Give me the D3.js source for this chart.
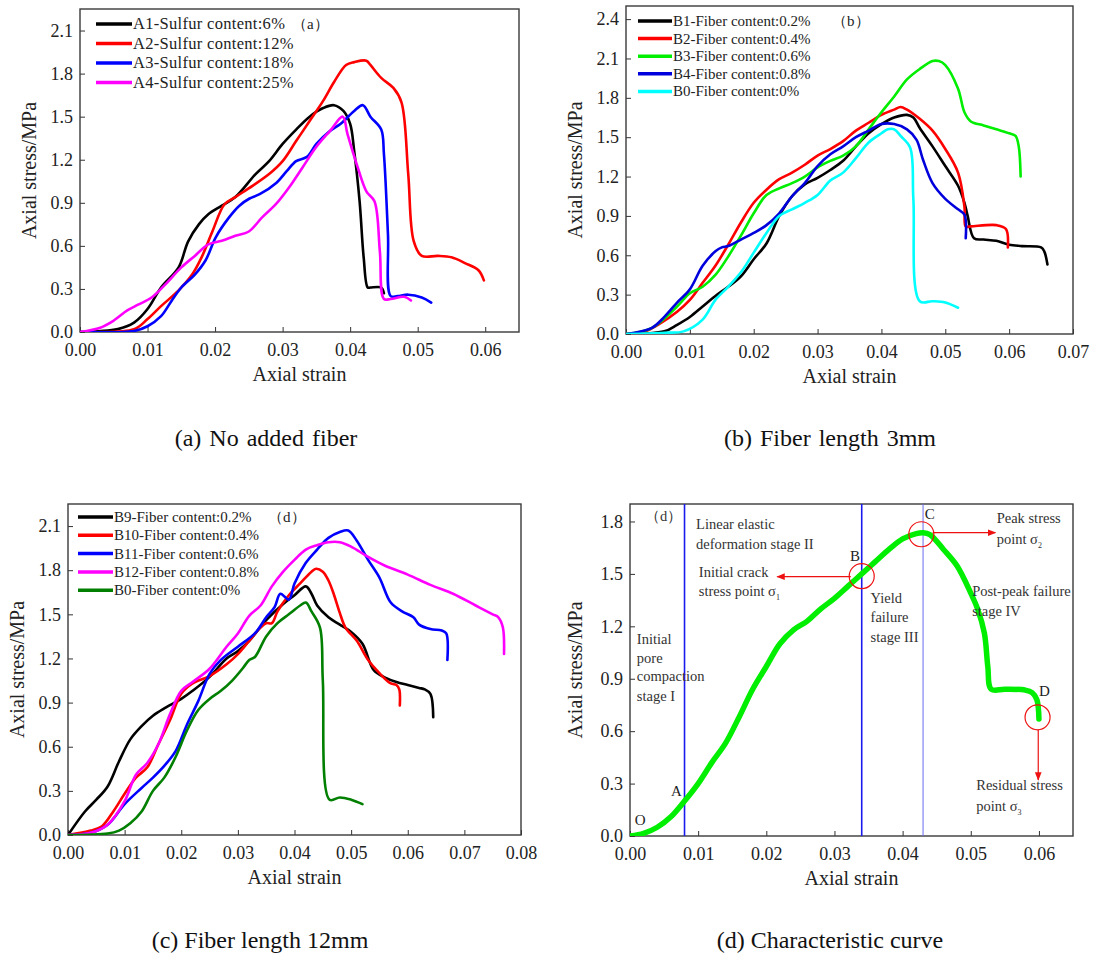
<!DOCTYPE html>
<html>
<head>
<meta charset="utf-8">
<script src="https://cdn.jsdelivr.net/npm/d3@7"></script>
<style>
  body { margin: 0; background: #fff; }
  text { font-family: "Liberation Serif", "Times New Roman", serif; }
</style>
</head>
<body>
<svg id="fig" width="1109" height="957"></svg>
<script>
// Stress-strain curves, [axial strain, axial stress MPa]

// (a) no added fiber
const A1 = [[0,0],[0.0056,0.02],[0.008,0.065],[0.01,0.16],[0.012,0.31],[0.0146,0.45],[0.016,0.63],[0.0176,0.75],[0.019,0.82],[0.021,0.88],[0.023,0.94],[0.026,1.1],[0.028,1.19],[0.03,1.31],[0.032,1.41],[0.034,1.5],[0.036,1.56],[0.0376,1.58],[0.039,1.54],[0.04,1.45],[0.0406,1.26],[0.0414,0.91],[0.042,0.52],[0.0426,0.31],[0.043,0.31],[0.0446,0.31],[0.045,0.27]];
const A2 = [[0,0],[0.008,0.02],[0.01,0.09],[0.012,0.18],[0.0146,0.29],[0.0166,0.4],[0.018,0.52],[0.0196,0.7],[0.0214,0.89],[0.023,0.94],[0.0256,1.02],[0.028,1.1],[0.03,1.19],[0.032,1.33],[0.034,1.47],[0.036,1.61],[0.0376,1.74],[0.0394,1.86],[0.0406,1.88],[0.0424,1.89],[0.043,1.86],[0.0446,1.77],[0.0464,1.7],[0.0476,1.6],[0.0486,1.1],[0.0494,0.635],[0.0506,0.53],[0.053,0.53],[0.055,0.52],[0.057,0.48],[0.059,0.43],[0.0598,0.36]];
const A3 = [[0,0],[0.008,0.007],[0.01,0.04],[0.012,0.11],[0.0136,0.22],[0.015,0.31],[0.017,0.4],[0.0186,0.5],[0.0201,0.66],[0.0221,0.8],[0.0236,0.88],[0.0251,0.93],[0.0266,0.96],[0.0291,1.04],[0.0306,1.12],[0.032,1.19],[0.0336,1.22],[0.035,1.31],[0.037,1.4],[0.0386,1.45],[0.0406,1.54],[0.0419,1.58],[0.043,1.5],[0.0446,1.41],[0.045,1.24],[0.0456,0.68],[0.046,0.25],[0.047,0.25],[0.0486,0.26],[0.0506,0.24],[0.052,0.205]];
const A4 = [[0,0],[0.003,0.03],[0.005,0.08],[0.007,0.15],[0.0086,0.19],[0.0106,0.24],[0.0126,0.33],[0.015,0.45],[0.017,0.53],[0.019,0.61],[0.021,0.635],[0.023,0.67],[0.025,0.7],[0.027,0.8],[0.029,0.89],[0.031,1.01],[0.033,1.15],[0.035,1.29],[0.037,1.4],[0.0389,1.5],[0.0396,1.38],[0.0411,1.15],[0.0424,0.98],[0.0436,0.91],[0.0444,0.56],[0.045,0.23],[0.046,0.23],[0.048,0.245],[0.049,0.22]];

// (b) fiber length 3mm
const B1 = [[0,0],[0.006,0.02],[0.008,0.07],[0.01,0.13],[0.012,0.21],[0.014,0.29],[0.016,0.36],[0.018,0.44],[0.02,0.57],[0.022,0.69],[0.024,0.9],[0.026,1.05],[0.028,1.14],[0.03,1.19],[0.032,1.25],[0.034,1.32],[0.036,1.43],[0.038,1.53],[0.04,1.6],[0.042,1.65],[0.044,1.67],[0.045,1.65],[0.046,1.57],[0.048,1.43],[0.05,1.28],[0.052,1.13],[0.053,1.0],[0.0535,0.9],[0.0545,0.73],[0.056,0.72],[0.058,0.71],[0.06,0.68],[0.062,0.67],[0.065,0.66],[0.0655,0.63],[0.066,0.53]];
const B2 = [[0,0],[0.003,0.02],[0.005,0.07],[0.008,0.17],[0.01,0.26],[0.012,0.39],[0.014,0.52],[0.016,0.68],[0.018,0.85],[0.02,1.0],[0.022,1.1],[0.024,1.18],[0.026,1.23],[0.028,1.29],[0.03,1.36],[0.032,1.41],[0.034,1.47],[0.036,1.55],[0.038,1.61],[0.04,1.67],[0.042,1.71],[0.043,1.73],[0.044,1.71],[0.046,1.64],[0.048,1.55],[0.05,1.41],[0.052,1.23],[0.053,0.97],[0.0532,0.82],[0.054,0.82],[0.058,0.83],[0.0595,0.8],[0.0598,0.66]];
const B3 = [[0,0],[0.004,0.045],[0.008,0.21],[0.01,0.31],[0.012,0.36],[0.014,0.45],[0.016,0.59],[0.018,0.75],[0.02,0.92],[0.022,1.06],[0.024,1.11],[0.026,1.15],[0.028,1.2],[0.03,1.27],[0.032,1.32],[0.034,1.36],[0.036,1.43],[0.038,1.56],[0.04,1.69],[0.042,1.81],[0.044,1.94],[0.046,2.02],[0.048,2.08],[0.049,2.08],[0.05,2.05],[0.052,1.87],[0.053,1.69],[0.054,1.62],[0.056,1.59],[0.058,1.56],[0.06,1.53],[0.061,1.51],[0.0615,1.43],[0.0618,1.2]];
const B4 = [[0,0],[0.004,0.045],[0.006,0.13],[0.008,0.24],[0.01,0.34],[0.012,0.52],[0.014,0.63],[0.015,0.66],[0.016,0.67],[0.018,0.72],[0.02,0.77],[0.022,0.83],[0.024,0.92],[0.026,1.05],[0.028,1.15],[0.03,1.28],[0.032,1.37],[0.034,1.43],[0.036,1.5],[0.038,1.55],[0.04,1.6],[0.042,1.6],[0.044,1.56],[0.0455,1.48],[0.0465,1.33],[0.048,1.15],[0.05,1.03],[0.052,0.95],[0.053,0.91],[0.0532,0.73]];
const B0s = [[0,0],[0.006,0.01],[0.009,0.02],[0.012,0.11],[0.014,0.26],[0.016,0.36],[0.018,0.47],[0.02,0.62],[0.022,0.77],[0.024,0.9],[0.026,0.95],[0.028,1.0],[0.03,1.06],[0.032,1.17],[0.034,1.23],[0.036,1.34],[0.038,1.46],[0.04,1.53],[0.041,1.56],[0.042,1.56],[0.043,1.51],[0.0445,1.42],[0.045,1.03],[0.046,0.25],[0.048,0.25],[0.05,0.24],[0.052,0.2]];

// (c) fiber length 12mm
const B9 = [[0,0],[0.003,0.16],[0.005,0.24],[0.007,0.33],[0.009,0.5],[0.011,0.65],[0.013,0.74],[0.015,0.81],[0.017,0.86],[0.02,0.925],[0.022,0.98],[0.025,1.075],[0.028,1.2],[0.03,1.25],[0.032,1.32],[0.035,1.46],[0.038,1.57],[0.04,1.63],[0.042,1.69],[0.043,1.64],[0.044,1.56],[0.046,1.48],[0.048,1.43],[0.05,1.38],[0.052,1.3],[0.054,1.12],[0.056,1.07],[0.058,1.04],[0.06,1.02],[0.062,1.0],[0.063,0.99],[0.064,0.96],[0.0645,0.8]];
const B10 = [[0,0],[0.004,0.03],[0.006,0.06],[0.008,0.16],[0.01,0.28],[0.012,0.39],[0.014,0.46],[0.016,0.62],[0.018,0.78],[0.02,0.96],[0.022,1.03],[0.025,1.08],[0.028,1.16],[0.03,1.23],[0.032,1.32],[0.034,1.41],[0.035,1.44],[0.036,1.44],[0.037,1.52],[0.039,1.63],[0.041,1.71],[0.043,1.79],[0.0438,1.81],[0.045,1.79],[0.046,1.73],[0.047,1.63],[0.048,1.51],[0.049,1.41],[0.051,1.32],[0.053,1.19],[0.055,1.1],[0.057,1.03],[0.058,1.02],[0.0585,0.99],[0.0586,0.88]];
const B11 = [[0,0],[0.004,0.015],[0.007,0.07],[0.01,0.21],[0.013,0.32],[0.015,0.39],[0.017,0.47],[0.019,0.57],[0.021,0.75],[0.023,0.91],[0.025,1.095],[0.027,1.19],[0.03,1.28],[0.033,1.37],[0.035,1.48],[0.0365,1.55],[0.0375,1.64],[0.039,1.6],[0.04,1.71],[0.042,1.85],[0.044,1.94],[0.046,2.02],[0.048,2.06],[0.0495,2.07],[0.051,2.0],[0.053,1.87],[0.055,1.75],[0.057,1.58],[0.059,1.52],[0.061,1.48],[0.062,1.43],[0.064,1.4],[0.066,1.39],[0.0668,1.37],[0.067,1.19]];
const B12 = [[0,0],[0.004,0.015],[0.007,0.07],[0.01,0.23],[0.012,0.41],[0.014,0.49],[0.016,0.62],[0.018,0.82],[0.02,0.98],[0.022,1.04],[0.025,1.13],[0.028,1.28],[0.03,1.37],[0.032,1.49],[0.034,1.56],[0.036,1.69],[0.038,1.79],[0.04,1.87],[0.042,1.94],[0.044,1.97],[0.046,1.99],[0.048,1.99],[0.05,1.96],[0.053,1.89],[0.056,1.83],[0.06,1.77],[0.064,1.7],[0.068,1.64],[0.072,1.56],[0.075,1.5],[0.076,1.48],[0.0768,1.41],[0.077,1.23]];
const B0l = [[0,0],[0.007,0.01],[0.009,0.03],[0.011,0.08],[0.013,0.16],[0.015,0.3],[0.017,0.39],[0.019,0.53],[0.021,0.71],[0.023,0.85],[0.025,0.925],[0.027,0.98],[0.029,1.05],[0.031,1.14],[0.032,1.19],[0.033,1.21],[0.035,1.35],[0.037,1.44],[0.039,1.5],[0.041,1.56],[0.042,1.58],[0.043,1.52],[0.0445,1.41],[0.045,1.05],[0.0462,0.24],[0.048,0.255],[0.05,0.24],[0.052,0.21]];

// (d) characteristic curve
const charCurve = [[0,0],[0.002,0.015],[0.004,0.05],[0.006,0.11],[0.008,0.2],[0.01,0.3],[0.012,0.42],[0.014,0.53],[0.016,0.68],[0.018,0.84],[0.02,0.97],[0.022,1.1],[0.024,1.18],[0.026,1.23],[0.028,1.3],[0.03,1.36],[0.032,1.43],[0.034,1.5],[0.036,1.57],[0.038,1.64],[0.04,1.7],[0.042,1.73],[0.043,1.735],[0.044,1.725],[0.046,1.64],[0.048,1.545],[0.05,1.39],[0.051,1.3],[0.052,1.16],[0.0525,0.97],[0.053,0.84],[0.055,0.84],[0.058,0.835],[0.059,0.82],[0.0597,0.78],[0.06,0.67]];
const stageBounds = [0.008, 0.034, 0.043];   // strain of points A, B, C

const labelsA = ['A1-Sulfur content:6%', 'A2-Sulfur content:12%', 'A3-Sulfur content:18%', 'A4-Sulfur content:25%'];
const labelsB = ['B1-Fiber content:0.2%', 'B2-Fiber content:0.4%', 'B3-Fiber content:0.6%', 'B4-Fiber content:0.8%', 'B0-Fiber content:0%'];
const labelsC = ['B9-Fiber content:0.2%', 'B10-Fiber content:0.4%', 'B11-Fiber content:0.6%', 'B12-Fiber content:0.8%', 'B0-Fiber content:0%'];
const captions = ['(a) No added fiber', '(b) Fiber length 3mm', '(c) Fiber length 12mm', '(d) Characteristic curve'];

const svg = d3.select('#fig');
svg.append('rect').attr('width', 1109).attr('height', 957).attr('fill', '#fff');

// Draws frame, axes and titles of one panel; returns its scales
function drawPanel(p) {
  const g = svg.append('g');
  const x = d3.scaleLinear().domain([0, p.xMax]).range([p.left, p.right]);
  const y = d3.scaleLinear().domain([0, p.yMax]).range([p.bottom, p.top]);

  const xTicks = d3.range(0, p.xTickMax + 1e-9, 0.01);
  const yTicks = d3.range(0, p.yTickMax + 1e-9, 0.3);

  g.append('g')
    .attr('transform', `translate(0,${p.bottom})`)
    .call(d3.axisBottom(x).tickValues(xTicks).tickFormat(d3.format('.2f'))
      .tickSizeInner(-5).tickSizeOuter(0).tickPadding(11))
    .call((a) => a.select('.domain').remove())
    .call((a) => a.selectAll('text').attr('font-size', 18).attr('fill', '#222')
      .style('font-family', '"Liberation Serif", serif'));

  g.append('g')
    .attr('transform', `translate(${p.left},0)`)
    .call(d3.axisLeft(y).tickValues(yTicks).tickFormat(d3.format('.1f'))
      .tickSizeInner(-5).tickSizeOuter(0).tickPadding(7))
    .call((a) => a.select('.domain').remove())
    .call((a) => a.selectAll('text').attr('font-size', 18).attr('fill', '#222')
      .style('font-family', '"Liberation Serif", serif'));

  g.selectAll('.tick line').attr('stroke', '#333');

  // frame
  g.append('rect')
    .attr('x', p.left).attr('y', p.top)
    .attr('width', p.right - p.left).attr('height', p.bottom - p.top)
    .attr('fill', 'none').attr('stroke', '#3a3a3a').attr('stroke-width', 1.4);

  g.append('text')
    .attr('x', (p.left + p.right) / 2).attr('y', p.bottom + 49)
    .attr('text-anchor', 'middle').attr('font-size', 20).attr('fill', '#222')
    .text('Axial strain');

  g.append('text')
    .attr('transform', `translate(${p.yTitleX},${(p.top + p.bottom) / 2}) rotate(-90)`)
    .attr('text-anchor', 'middle').attr('font-size', 20).attr('fill', '#222')
    .text('Axial stress/MPa');

  g.append('text')
    .attr('x', p.captionX).attr('y', p.captionY)
    .attr('text-anchor', 'middle').attr('font-size', 24).attr('fill', '#111')
    .attr('word-spacing', p.wordSpacing || 0)
    .text(p.caption);

  const clipId = 'clip' + p.caption.charAt(1);
  svg.append('clipPath').attr('id', clipId).append('rect')
    .attr('x', p.left).attr('y', p.top)
    .attr('width', p.right - p.left).attr('height', p.bottom - p.top);

  return {g, x, y, clipId};
}

function drawCurves(panel, series, colors, width) {
  const line = d3.line()
    .x((d) => panel.x(d[0]))
    .y((d) => panel.y(d[1]))
    .curve(d3.curveCatmullRom.alpha(0.5));

  panel.g.append('g').attr('clip-path', `url(#${panel.clipId})`)
    .selectAll('path')
    .data(series)
    .join('path')
    .attr('d', line)
    .attr('fill', 'none')
    .attr('stroke', (d, i) => colors[i])
    .attr('stroke-width', width)
    .attr('stroke-linejoin', 'round')
    .attr('stroke-linecap', 'round');
}

function drawLegend(panel, lg) {
  const rows = panel.g.append('g').selectAll('g')
    .data(lg.labels)
    .join('g')
    .attr('transform', (d, i) => `translate(0,${lg.y0 + i * lg.dy})`);
  rows.append('line')
    .attr('x1', lg.x0).attr('x2', lg.x1)
    .attr('stroke', (d, i) => lg.colors[i]).attr('stroke-width', 3.5);
  rows.append('text')
    .attr('x', lg.x1 + 1).attr('y', 5)
    .attr('font-size', lg.size).attr('letter-spacing', lg.spacing)
    .attr('fill', '#222')
    .text((d) => d);
  panel.g.append('text')
    .attr('x', lg.tagX).attr('y', lg.y0 + 5)
    .attr('font-size', 15).attr('fill', '#222')
    .text(lg.tag);
}

// ---- (a)
const pa = drawPanel({left: 80, right: 519, top: 9, bottom: 332, xMax: 0.065, yMax: 2.25,
  xTickMax: 0.06, yTickMax: 2.1, yTitleX: 36, caption: captions[0], captionX: 266, captionY: 446,
  wordSpacing: 2});
const colorsA = ['#000000', '#ff0000', '#0000ff', '#ff00ff'];
drawCurves(pa, [A1, A2, A3, A4], colorsA, 2.6);
drawLegend(pa, {labels: labelsA, colors: colorsA, x0: 96, x1: 132, y0: 24, dy: 19.5,
  size: 16.5, spacing: 0.3, tag: '（a）', tagX: 292});

// ---- (b)
const pb = drawPanel({left: 626, right: 1073, top: 6, bottom: 334, xMax: 0.07, yMax: 2.5,
  xTickMax: 0.07, yTickMax: 2.4, yTitleX: 582, caption: captions[1], captionX: 830, captionY: 446,
  wordSpacing: 2});
const colorsB = ['#000000', '#ff0000', '#00ee00', '#0000dd', '#00ffff'];
drawCurves(pb, [B1, B2, B3, B4, B0s], colorsB, 2.6);
drawLegend(pb, {labels: labelsB, colors: colorsB, x0: 638, x1: 672, y0: 21, dy: 17.6,
  size: 15, spacing: 0, tag: '（b）', tagX: 832});

// ---- (c)
const pc = drawPanel({left: 68, right: 521, top: 504, bottom: 835, xMax: 0.08, yMax: 2.25,
  xTickMax: 0.08, yTickMax: 2.1, yTitleX: 24, caption: captions[2], captionX: 260, captionY: 948});
const colorsC = ['#000000', '#ff0000', '#0000ff', '#ff00ff', '#007f00'];
drawCurves(pc, [B9, B10, B11, B12, B0l], colorsC, 2.6);
drawLegend(pc, {labels: labelsC, colors: colorsC, x0: 78, x1: 113, y0: 517, dy: 18.3,
  size: 15, spacing: 0, tag: '（d）', tagX: 268});

// ---- (d)
const pd = drawPanel({left: 630, right: 1073, top: 504, bottom: 836, xMax: 0.065, yMax: 1.9,
  xTickMax: 0.06, yTickMax: 1.8, yTitleX: 582, caption: captions[3], captionX: 830, captionY: 948});

pd.g.selectAll('line.stage')
  .data(stageBounds)
  .join('line')
  .attr('class', 'stage')
  .attr('x1', (d) => pd.x(d)).attr('x2', (d) => pd.x(d))
  .attr('y1', pd.y(0)).attr('y2', pd.y(1.9))
  .attr('stroke', (d, i) => i === 2 ? '#6a6af0' : '#1a1aee')
  .attr('stroke-width', (d, i) => i === 2 ? 1 : 1.6);

drawCurves(pd, [charCurve], ['#00ee00'], 5.5);

// marker circles at B, C, D
const marks = [[0.034, 1.487], [0.04275, 1.727], [0.0598, 0.679]];
pd.g.selectAll('circle.mark')
  .data(marks)
  .join('circle')
  .attr('class', 'mark')
  .attr('cx', (d) => pd.x(d[0])).attr('cy', (d) => pd.y(d[1]))
  .attr('r', 12.5)
  .attr('fill', 'none').attr('stroke', '#ee1111').attr('stroke-width', 1.2);

svg.append('defs').append('marker')
  .attr('id', 'arrow').attr('viewBox', '0 0 10 10')
  .attr('refX', 9).attr('refY', 5)
  .attr('markerWidth', 7).attr('markerHeight', 7)
  .attr('orient', 'auto-start-reverse')
  .append('path').attr('d', 'M0,1 L10,5 L0,9 Z').attr('fill', '#ee1111');

const arrows = [
  [[0.0324, 1.484], [0.0216, 1.484]],
  [[0.0444, 1.736], [0.0536, 1.736]],
  [[0.0599, 0.608], [0.0599, 0.321]],
];
pd.g.selectAll('line.arrow')
  .data(arrows)
  .join('line')
  .attr('class', 'arrow')
  .attr('x1', (d) => pd.x(d[0][0])).attr('y1', (d) => pd.y(d[0][1]))
  .attr('x2', (d) => pd.x(d[1][0])).attr('y2', (d) => pd.y(d[1][1]))
  .attr('stroke', '#ee1111').attr('stroke-width', 1.2)
  .attr('marker-end', 'url(#arrow)');

// stage text, [strain, stress, text, subscript]
const notes = [
  [0.0022, 1.80, '（d）', ''],
  [0.0097, 1.755, 'Linear elastic', ''],
  [0.0097, 1.64, 'deformation stage II', ''],
  [0.0101, 1.485, 'Initial crack', ''],
  [0.0101, 1.372, 'stress point σ', '1'],
  [0.0353, 1.334, 'Yield', ''],
  [0.0353, 1.225, 'failure', ''],
  [0.0353, 1.11, 'stage III', ''],
  [0.0538, 1.79, 'Peak stress', ''],
  [0.0538, 1.67, 'point σ', '2'],
  [0.0502, 1.372, 'Post-peak failure', ''],
  [0.0502, 1.257, 'stage IV', ''],
  [0.001, 1.097, 'Initial', ''],
  [0.001, 0.99, 'pore', ''],
  [0.001, 0.885, 'compaction', ''],
  [0.001, 0.77, 'stage I', ''],
  [0.0508, 0.265, 'Residual stress', ''],
  [0.0508, 0.145, 'point σ', '3'],
];
const noteText = pd.g.selectAll('text.note')
  .data(notes)
  .join('text')
  .attr('class', 'note')
  .attr('x', (d) => pd.x(d[0])).attr('y', (d) => pd.y(d[1]))
  .attr('font-size', 14.5).attr('fill', '#333');
noteText.append('tspan').text((d) => d[2]);
noteText.filter((d) => d[3]).append('tspan')
  .attr('dy', 4).attr('font-size', 8).text((d) => d[3]);

// point letters
const letters = [[0.0015, 0.062, 'O'], [0.0068, 0.23, 'A'], [0.033, 1.572, 'B'],
  [0.044, 1.813, 'C'], [0.0608, 0.803, 'D']];
pd.g.selectAll('text.pt')
  .data(letters)
  .join('text')
  .attr('class', 'pt')
  .attr('x', (d) => pd.x(d[0])).attr('y', (d) => pd.y(d[1]))
  .attr('text-anchor', 'middle')
  .attr('font-size', 15).attr('fill', '#222')
  .text((d) => d[2]);
</script>
</body>
</html>
